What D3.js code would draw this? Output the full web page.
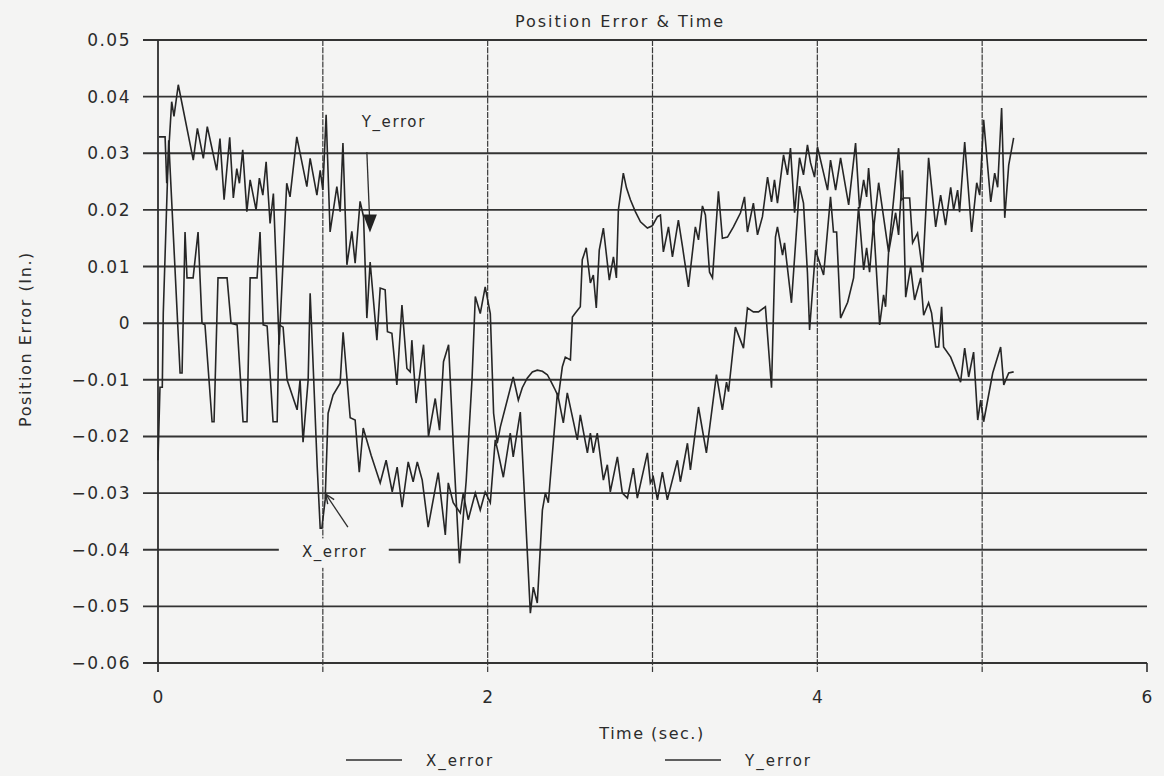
<!DOCTYPE html>
<html>
<head>
<meta charset="utf-8">
<script src="https://cdn.jsdelivr.net/npm/d3@7"></script>
<style>
  html, body { margin: 0; padding: 0; background: #f4f4f3; }
  svg { display: block; }
  text { font-family: "DejaVu Sans", sans-serif; fill: #2b2b2b; }
</style>
</head>
<body>
<svg id="chart" width="1164" height="776"></svg>
<script>
// ---- data -------------------------------------------------------------
// time (sec.), position error (in.)
const xErrorPoints = [
  [0.000,-0.0242],[0.012,-0.0113],[0.026,-0.0113],[0.032,0.0018],[0.065,0.0323],
  [0.134,-0.0088],[0.146,-0.0088],[0.164,0.0161],[0.176,0.0080],[0.213,0.0080],
  [0.243,0.0161],[0.267,0.0000],[0.285,-0.0003],[0.328,-0.0174],[0.340,-0.0174],
  [0.364,0.0080],[0.419,0.0080],[0.443,0.0000],[0.480,-0.0003],[0.516,-0.0174],
  [0.540,-0.0174],[0.559,0.0080],[0.601,0.0080],[0.619,0.0161],[0.638,-0.0003],
  [0.662,-0.0005],[0.698,-0.0174],[0.723,-0.0174],[0.735,-0.0003],[0.759,-0.0007],
  [0.783,-0.0100],[0.844,-0.0153],[0.862,-0.0100],[0.880,-0.0210],[0.911,-0.0100],
  [0.923,0.0053],[0.932,-0.0008],[0.966,-0.0254],[0.984,-0.0362],[0.994,-0.0362],
  [1.014,-0.0312],[1.032,-0.0159],[1.062,-0.0127],[1.105,-0.0106],[1.123,-0.0016],
  [1.166,-0.0167],[1.196,-0.0171],[1.221,-0.0263],[1.245,-0.0185],[1.293,-0.0233],
  [1.348,-0.0282],[1.384,-0.0242],[1.421,-0.0298],[1.451,-0.0254],[1.481,-0.0325],
  [1.518,-0.0245],[1.548,-0.0280],[1.573,-0.0245],[1.603,-0.0277],[1.639,-0.0360],
  [1.700,-0.0264],[1.743,-0.0374],[1.761,-0.0282],[1.791,-0.0317],[1.834,-0.0335],
  [1.852,-0.0300],[1.882,-0.0347],[1.925,-0.0300],[1.955,-0.0330],[1.985,-0.0298],
  [2.016,-0.0317],[2.046,-0.0206],[2.064,-0.0229],[2.095,-0.0272],[2.137,-0.0194],
  [2.155,-0.0236],[2.198,-0.0157],[2.259,-0.0512],[2.277,-0.0466],[2.301,-0.0494],
  [2.332,-0.0330],[2.350,-0.0300],[2.368,-0.0317],[2.423,-0.0123],[2.459,-0.0176],
  [2.483,-0.0123],[2.544,-0.0206],[2.562,-0.0162],[2.605,-0.0229],[2.623,-0.0194],
  [2.641,-0.0229],[2.665,-0.0194],[2.702,-0.0277],[2.726,-0.0250],[2.744,-0.0298],
  [2.787,-0.0236],[2.817,-0.0300],[2.848,-0.0309],[2.884,-0.0256],[2.908,-0.0309],
  [2.969,-0.0229],[2.987,-0.0282],[3.005,-0.0272],[3.030,-0.0312],[3.060,-0.0263],
  [3.090,-0.0312],[3.151,-0.0242],[3.169,-0.0280],[3.212,-0.0212],[3.230,-0.0259],
  [3.279,-0.0148],[3.327,-0.0229],[3.388,-0.0091],[3.424,-0.0153],[3.449,-0.0104],
  [3.461,-0.0121],[3.503,-0.0007],[3.552,-0.0044],[3.576,0.0027],[3.612,0.0020],
  [3.643,0.0020],[3.685,0.0029],[3.722,-0.0114],[3.746,0.0152],[3.758,0.0170],
  [3.789,0.0120],[3.801,0.0142],[3.843,0.0036],[3.892,0.0242],[3.916,0.0212],
  [3.940,0.0089],[3.953,-0.0012],[3.989,0.0129],[4.038,0.0085],[4.080,0.0223],
  [4.098,0.0161],[4.117,0.0161],[4.141,0.0009],[4.184,0.0037],[4.220,0.0080],
  [4.250,0.0205],[4.281,0.0094],[4.299,0.0133],[4.317,0.0090],[4.341,0.0177],
  [4.378,-0.0003],[4.402,0.0050],[4.414,0.0029],[4.432,0.0124],[4.475,0.0195],
  [4.493,0.0156],[4.517,0.0270],[4.536,0.0046],[4.566,0.0099],[4.590,0.0041],
  [4.627,0.0080],[4.645,0.0014],[4.675,0.0036],[4.693,0.0018],[4.718,-0.0042],
  [4.736,-0.0042],[4.754,0.0029],[4.766,-0.0042],[4.809,-0.0060],[4.869,-0.0104],
  [4.894,-0.0044],[4.918,-0.0095],[4.948,-0.0051],[4.973,-0.0171],[4.991,-0.0136],
  [5.009,-0.0174],[5.064,-0.0088],[5.112,-0.0042],[5.131,-0.0109],[5.161,-0.0088],
  [5.191,-0.0086]
];

const yErrorPoints = [
  [0.006,0.0329],[0.043,0.0329],[0.053,0.0247],[0.083,0.0391],[0.097,0.0365],
  [0.123,0.0421],[0.214,0.0288],[0.239,0.0344],[0.275,0.0291],[0.299,0.0347],
  [0.356,0.0270],[0.376,0.0326],[0.401,0.0218],[0.435,0.0328],[0.457,0.0221],
  [0.478,0.0273],[0.494,0.0247],[0.514,0.0306],[0.539,0.0197],[0.559,0.0253],
  [0.595,0.0200],[0.615,0.0256],[0.636,0.0226],[0.656,0.0285],[0.680,0.0176],
  [0.700,0.0229],[0.735,-0.0038],[0.781,0.0247],[0.801,0.0223],[0.842,0.0329],
  [0.903,0.0241],[0.923,0.0291],[0.964,0.0226],[0.984,0.0270],[1.000,0.0235],
  [1.020,0.0368],[1.044,0.0161],[1.085,0.0241],[1.105,0.0197],[1.122,0.0318],
  [1.146,0.0103],[1.176,0.0162],[1.196,0.0106],[1.226,0.0215],[1.247,0.0188],
  [1.267,0.0009],[1.287,0.0108],[1.328,-0.0030],[1.348,0.0062],[1.378,0.0059],
  [1.392,-0.0015],[1.419,-0.0018],[1.449,-0.0109],[1.480,0.0032],[1.510,-0.0080],
  [1.530,-0.0086],[1.540,-0.0030],[1.566,-0.0141],[1.611,-0.0038],[1.641,-0.0200],
  [1.682,-0.0133],[1.708,-0.0189],[1.732,-0.0068],[1.763,-0.0038],[1.793,-0.0224],
  [1.829,-0.0424],[1.870,-0.0277],[1.905,-0.0100],[1.925,0.0047],[1.955,0.0017],
  [1.985,0.0064],[2.016,0.0017],[2.036,-0.0159],[2.058,-0.0212],[2.077,-0.0183],
  [2.155,-0.0095],[2.186,-0.0136],[2.210,-0.0114],[2.240,-0.0097],[2.271,-0.0086],
  [2.301,-0.0083],[2.332,-0.0085],[2.362,-0.0091],[2.386,-0.0104],[2.410,-0.0118],
  [2.429,-0.0130],[2.453,-0.0077],[2.471,-0.0060],[2.502,-0.0065],[2.514,0.0011],
  [2.532,0.0018],[2.562,0.0029],[2.574,0.0112],[2.598,0.0133],[2.623,0.0071],
  [2.641,0.0085],[2.659,0.0027],[2.677,0.0129],[2.702,0.0168],[2.738,0.0076],
  [2.763,0.0117],[2.781,0.0080],[2.793,0.0200],[2.823,0.0265],[2.842,0.0239],
  [2.866,0.0218],[2.896,0.0197],[2.927,0.0179],[2.969,0.0168],[2.999,0.0172],
  [3.030,0.0188],[3.048,0.0191],[3.066,0.0126],[3.097,0.0170],[3.121,0.0117],
  [3.157,0.0182],[3.182,0.0135],[3.218,0.0064],[3.260,0.0170],[3.279,0.0147],
  [3.303,0.0207],[3.321,0.0191],[3.346,0.0090],[3.364,0.0080],[3.400,0.0233],
  [3.424,0.0150],[3.455,0.0152],[3.491,0.0170],[3.534,0.0195],[3.558,0.0223],
  [3.576,0.0161],[3.612,0.0212],[3.637,0.0156],[3.667,0.0188],[3.698,0.0258],
  [3.722,0.0214],[3.740,0.0253],[3.758,0.0212],[3.795,0.0297],[3.819,0.0262],
  [3.837,0.0309],[3.862,0.0195],[3.892,0.0292],[3.916,0.0262],[3.940,0.0315],
  [3.959,0.0283],[3.983,0.0258],[4.001,0.0311],[4.038,0.0265],[4.062,0.0235],
  [4.080,0.0288],[4.111,0.0235],[4.141,0.0292],[4.190,0.0209],[4.232,0.0318],
  [4.256,0.0203],[4.281,0.0253],[4.299,0.0223],[4.311,0.0274],[4.341,0.0165],
  [4.372,0.0248],[4.432,0.0126],[4.493,0.0309],[4.511,0.0218],[4.524,0.0221],
  [4.560,0.0221],[4.578,0.0142],[4.608,0.0159],[4.639,0.0090],[4.675,0.0292],
  [4.718,0.0170],[4.748,0.0226],[4.778,0.0173],[4.809,0.0240],[4.827,0.0200],
  [4.851,0.0235],[4.863,0.0196],[4.894,0.0320],[4.936,0.0161],[4.967,0.0248],
  [4.985,0.0226],[5.009,0.0359],[5.052,0.0214],[5.076,0.0265],[5.094,0.0240],
  [5.118,0.0380],[5.137,0.0186],[5.161,0.0279],[5.191,0.0327]
];

const seriesNames = ["X_error", "Y_error"];
const yTickValues = [0.05, 0.04, 0.03, 0.02, 0.01, 0, -0.01, -0.02, -0.03, -0.04, -0.05, -0.06];
const yTickLabels = ["0.05", "0.04", "0.03", "0.02", "0.01", "0", "\u22120.01", "\u22120.02", "\u22120.03", "\u22120.04", "\u22120.05", "\u22120.06"];
const xTickValues = [0, 1, 2, 3, 4, 5, 6];
const xLabelValues = [0, 2, 4, 6];
const xLabelTexts = ["0", "2", "4", "6"];

// ---- layout ------------------------------------------------------------
const svg = d3.select("#chart");
const W = 1164, H = 776;
const plotLeft = 158, plotRight = 1147, plotTop = 40, plotBottom = 663;
const ink = "#2e2e2e";
const paper = "#f4f4f3";

svg.append("rect").attr("width", W).attr("height", H).attr("fill", paper);

const x = d3.scaleLinear().domain([0, 6]).range([plotLeft, plotRight]);
const y = d3.scaleLinear().domain([-0.06, 0.05]).range([plotBottom, plotTop]);

// horizontal grid lines (extend left past the axis as ticks)
svg.append("g").selectAll("line").data(yTickValues).join("line")
  .attr("x1", plotLeft - 15).attr("x2", plotRight)
  .attr("y1", d => y(d)).attr("y2", d => y(d))
  .attr("stroke", "#333").attr("stroke-width", 1.9);

// vertical grid lines at every second, with ticks below the frame
svg.append("g").selectAll("line").data(xTickValues.filter(d => d > 0 && d < 6)).join("line")
  .attr("x1", d => x(d)).attr("x2", d => x(d))
  .attr("y1", plotTop).attr("y2", plotBottom + 9)
  .attr("stroke", "#383838").attr("stroke-width", 1.2)
  .attr("stroke-dasharray", "6,1.2");

// left axis
svg.append("line")
  .attr("x1", x(0)).attr("x2", x(0)).attr("y1", plotTop).attr("y2", plotBottom + 9)
  .attr("stroke", ink).attr("stroke-width", 1.8);
// end tick at 6
svg.append("line")
  .attr("x1", x(6)).attr("x2", x(6)).attr("y1", plotBottom).attr("y2", plotBottom + 9)
  .attr("stroke", ink).attr("stroke-width", 1.6);

// y tick labels
svg.append("g").selectAll("text").data(yTickValues).join("text")
  .attr("x", 131).attr("y", d => y(d) + 6)
  .attr("text-anchor", "end")
  .attr("font-size", 17).attr("letter-spacing", 1.5)
  .text((d, i) => yTickLabels[i]);

// x tick labels
svg.append("g").selectAll("text").data(xLabelValues).join("text")
  .attr("x", d => x(d)).attr("y", 703)
  .attr("text-anchor", "middle")
  .attr("font-size", 17)
  .text((d, i) => xLabelTexts[i]);

// titles
svg.append("text").attr("x", 620).attr("y", 27).attr("text-anchor", "middle")
  .attr("font-size", 16).attr("letter-spacing", 2)
  .text("Position Error & Time");
svg.append("text").attr("x", 652).attr("y", 739).attr("text-anchor", "middle")
  .attr("font-size", 16).attr("letter-spacing", 1.5)
  .text("Time (sec.)");
svg.append("text")
  .attr("transform", "translate(31,339) rotate(-90)")
  .attr("text-anchor", "middle")
  .attr("font-size", 16).attr("letter-spacing", 1.6)
  .text("Position Error (In.)");

// ---- series --------------------------------------------------------------
const line = d3.line().x(d => x(d[0])).y(d => y(d[1]));
const series = [xErrorPoints, yErrorPoints];
svg.append("g").selectAll("path").data(series).join("path")
  .attr("d", line)
  .attr("fill", "none")
  .attr("stroke", "#262626")
  .attr("stroke-width", 1.6)
  .attr("stroke-linejoin", "miter");

// ---- annotations ---------------------------------------------------------
// Y_error callout with filled arrow head
svg.append("text").attr("x", x(1.236)).attr("y", y(0.0346))
  .attr("font-size", 15).attr("letter-spacing", 1.6).text("Y_error");
svg.append("line")
  .attr("x1", x(1.267)).attr("y1", y(0.0302))
  .attr("x2", x(1.283)).attr("y2", y(0.0190))
  .attr("stroke", ink).attr("stroke-width", 1.3);
svg.append("path")
  .attr("d", `M${x(1.245)},${y(0.0192)} L${x(1.328)},${y(0.0192)} L${x(1.286)},${y(0.0160)} Z`)
  .attr("fill", "#222");

// X_error callout: label sits on a blank patch over the grid
svg.append("rect")
  .attr("x", x(0.733)).attr("y", y(-0.0380))
  .attr("width", x(1.400) - x(0.733)).attr("height", y(-0.0432) - y(-0.0380))
  .attr("fill", paper);
svg.append("text").attr("x", x(0.873)).attr("y", y(-0.0412))
  .attr("font-size", 15).attr("letter-spacing", 1.6).text("X_error");
const ax0 = [x(1.152), y(-0.0360)], ax1 = [x(1.018), y(-0.0302)];
svg.append("line")
  .attr("x1", ax0[0]).attr("y1", ax0[1]).attr("x2", ax1[0]).attr("y2", ax1[1])
  .attr("stroke", ink).attr("stroke-width", 1.3);
{
  const ang = Math.atan2(ax0[1] - ax1[1], ax0[0] - ax1[0]);
  const len = 10, spread = 0.4;
  const p1 = [ax1[0] + len * Math.cos(ang + spread), ax1[1] + len * Math.sin(ang + spread)];
  const p2 = [ax1[0] + len * Math.cos(ang - spread), ax1[1] + len * Math.sin(ang - spread)];
  svg.append("path")
    .attr("d", `M${p1[0]},${p1[1]} L${ax1[0]},${ax1[1]} L${p2[0]},${p2[1]}`)
    .attr("fill", "none").attr("stroke", ink).attr("stroke-width", 1.4);
}

// ---- legend ----------------------------------------------------------------
const legendX = [346, 665];
const legend = svg.append("g").selectAll("g").data(seriesNames).join("g")
  .attr("transform", (d, i) => `translate(${legendX[i]},760)`);
legend.append("line").attr("x1", 0).attr("x2", 56).attr("y1", 0).attr("y2", 0)
  .attr("stroke", ink).attr("stroke-width", 1.5);
legend.append("text").attr("x", 80).attr("y", 6)
  .attr("font-size", 15).attr("letter-spacing", 2)
  .text(d => d);
</script>
</body>
</html>
